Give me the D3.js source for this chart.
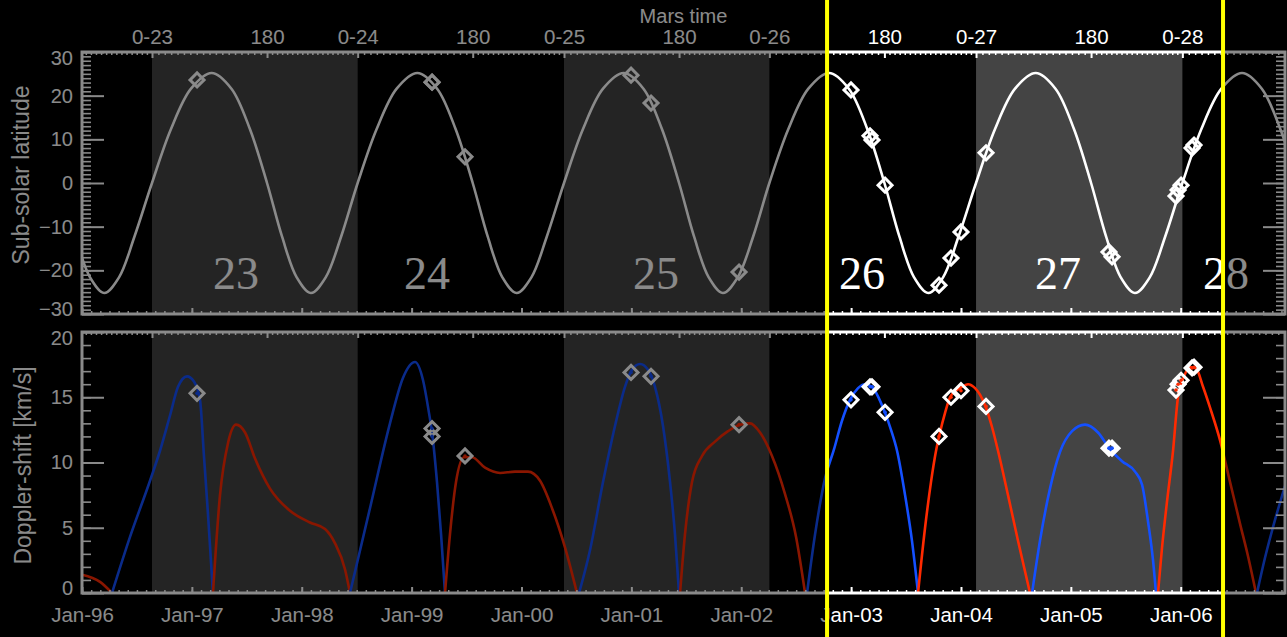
<!DOCTYPE html>
<html>
<head>
<meta charset="utf-8">
<script src="https://cdn.jsdelivr.net/npm/d3@7"></script>
<style>
  html, body { margin: 0; padding: 0; background: #000; }
  svg { display: block; }
  text { font-family: "Liberation Sans", Arial, Helvetica, sans-serif; }
</style>
</head>
<body>
<svg id="chart" width="1287" height="637"></svg>
<script>
// ---------------- data (time in decimal years) ----------------
const yearTicks = [1996, 1997, 1998, 1999, 2000, 2001, 2002, 2003, 2004, 2005, 2006];
const yearTickLabels = ["Jan-96", "Jan-97", "Jan-98", "Jan-99", "Jan-00", "Jan-01",
                        "Jan-02", "Jan-03", "Jan-04", "Jan-05", "Jan-06"];

// Mars calendar: start of each Mars year (Ls = 0) and the Ls = 180 crossings
const marsYearStart = [1996.637, 1998.509, 2000.387, 2002.256, 2004.137, 2006.015];
const marsYearLabels = ["0-23", "0-24", "0-25", "0-26", "0-27", "0-28"];
const marsLs180 = [1997.684, 1999.556, 2001.434, 2003.303, 2005.184];
const marsLs180Labels = ["180", "180", "180", "180", "180"];
// season boundaries just outside the plotted span (Ls 180 of MY22 and MY28)
const marsLs180Outside = [1995.803, 2007.062];

// apparition numbers written in the upper panel
const apparitionLabels = ["23", "24", "25", "26", "27", "28"];
const apparitionTimes = [1997.402, 1999.140, 2001.224, 2003.099, 2004.883, 2006.412];

// highlighted time window
const highlightWindow = [2002.781, 2006.385];

// sub-solar latitude of Mars [deg]
const subSolarTime = [
  1995.803, 1995.940, 1996.073, 1996.202, 1996.337, 1996.477,
  1996.637, 1996.809, 1996.992, 1997.180, 1997.360, 1997.529, 1997.684, 1997.821, 1997.954, 1998.083, 1998.218, 1998.358,
  1998.509, 1998.681, 1998.864, 1999.052, 1999.232, 1999.401, 1999.556, 1999.693, 1999.826, 1999.955, 2000.090, 2000.230,
  2000.387, 2000.559, 2000.742, 2000.930, 2001.110, 2001.279, 2001.434, 2001.571, 2001.704, 2001.833, 2001.968, 2002.108,
  2002.256, 2002.428, 2002.611, 2002.799, 2002.979, 2003.148, 2003.303, 2003.440, 2003.573, 2003.702, 2003.837, 2003.977,
  2004.137, 2004.309, 2004.492, 2004.680, 2004.860, 2005.029, 2005.184, 2005.321, 2005.454, 2005.583, 2005.718, 2005.858,
  2006.015, 2006.187, 2006.370, 2006.558, 2006.738, 2006.907, 2007.062
];
const subSolarLat = [
  0, -12.3, -21.6, -25.2, -21.6, -12.3,
  0, 12.3, 21.6, 25.2, 21.6, 12.3, 0, -12.3, -21.6, -25.2, -21.6, -12.3,
  0, 12.3, 21.6, 25.2, 21.6, 12.3, 0, -12.3, -21.6, -25.2, -21.6, -12.3,
  0, 12.3, 21.6, 25.2, 21.6, 12.3, 0, -12.3, -21.6, -25.2, -21.6, -12.3,
  0, 12.3, 21.6, 25.2, 21.6, 12.3, 0, -12.3, -21.6, -25.2, -21.6, -12.3,
  0, 12.3, 21.6, 25.2, 21.6, 12.3, 0, -12.3, -21.6, -25.2, -21.6, -12.3,
  0, 12.3, 21.6, 25.2, 21.6, 12.3, 0
];

// Doppler shift [km/s]: one arc per approach (blue) / recession (red) branch
const dopplerArcBranch = ["red", "blue", "red", "blue", "red", "blue", "red",
                          "blue", "red", "blue", "red", "blue"];
const dopplerArcTime = [
  [1996.000, 1996.164, 1996.273],
  [1996.273, 1996.437, 1996.619, 1996.710, 1996.801, 1996.874, 1996.956, 1997.019, 1997.074, 1997.110, 1997.147, 1997.192],
  [1997.192, 1997.256, 1997.329, 1997.402, 1997.484, 1997.575, 1997.711, 1997.893, 1998.075, 1998.212, 1998.303, 1998.394, 1998.439],
  [1998.439, 1998.621, 1998.803, 1998.922, 1999.031, 1999.104, 1999.158, 1999.186, 1999.231, 1999.268, 1999.304],
  [1999.304, 1999.349, 1999.404, 1999.477, 1999.550, 1999.668, 1999.805, 1999.941, 2000.059, 2000.169, 2000.278, 2000.396, 2000.505],
  [2000.524, 2000.624, 2000.742, 2000.851, 2000.942, 2001.006, 2001.079, 2001.152, 2001.215, 2001.288, 2001.352, 2001.397, 2001.434],
  [2001.443, 2001.488, 2001.552, 2001.643, 2001.761, 2001.880, 2001.989, 2002.080, 2002.171, 2002.280, 2002.398, 2002.499, 2002.581],
  [2002.599, 2002.672, 2002.763, 2002.844, 2002.917, 2002.990, 2003.063, 2003.127, 2003.190, 2003.254, 2003.309, 2003.363, 2003.418, 2003.491, 2003.554, 2003.609],
  [2003.609, 2003.673, 2003.727, 2003.773, 2003.809, 2003.855, 2003.900, 2003.955, 2004.010, 2004.064, 2004.128, 2004.173, 2004.228, 2004.283, 2004.337, 2004.428, 2004.519, 2004.628],
  [2004.647, 2004.719, 2004.810, 2004.901, 2005.011, 2005.129, 2005.247, 2005.357, 2005.466, 2005.584, 2005.648, 2005.702, 2005.748, 2005.775],
  [2005.793, 2005.830, 2005.875, 2005.930, 2005.975, 2006.030, 2006.085, 2006.139, 2006.203, 2006.267, 2006.358, 2006.449, 2006.540, 2006.613, 2006.685],
  [2006.694, 2006.767, 2006.858, 2006.949]
];
const dopplerArcValue = [
  [1.4, 0.85, 0],
  [0, 4.3, 8.6, 10.9, 13.6, 15.8, 16.6, 16.2, 14.8, 10.5, 6.0, 0],
  [0, 7.5, 11.5, 12.9, 12.3, 10.3, 8.0, 6.3, 5.4, 4.9, 3.8, 1.8, 0],
  [0, 6.5, 13.0, 16.5, 17.7, 16.3, 13.8, 12.3, 8.5, 4.5, 0],
  [0, 4.5, 8.5, 10.4, 10.4, 9.6, 9.2, 9.3, 9.3, 8.6, 6.5, 3.5, 0],
  [0, 3.3, 8.5, 12.8, 15.8, 17.1, 17.55, 17.1, 15.8, 12.8, 8.5, 4.5, 0],
  [0, 4.5, 8.5, 10.5, 11.6, 12.4, 12.9, 13.0, 12.3, 10.5, 7.6, 4.3, 0],
  [0, 4.5, 8.8, 11.0, 13.2, 14.8, 15.7, 16.0, 15.8, 14.9, 13.8, 12.5, 10.9, 7.5, 4.0, 0],
  [0, 5.0, 8.5, 10.9, 12.3, 13.8, 15.0, 15.5, 15.8, 16.0, 15.7, 15.2, 14.2, 12.7, 10.9, 7.5, 4.0, 0],
  [0, 4.0, 8.0, 10.8, 12.4, 12.9, 12.3, 11.0, 10.1, 9.3, 8.3, 5.5, 2.5, 0],
  [0, 3.5, 7.0, 10.9, 15.0, 16.6, 17.3, 17.2, 15.8, 14.2, 11.7, 8.5, 5.3, 2.8, 0],
  [0, 2.7, 5.6, 8.2]
];

// observations: date, sub-solar latitude [deg], Doppler shift [km/s], branch
const obsTime = [1997.047, 1999.186, 1999.186, 1999.486, 2000.997, 2001.179, 2001.980,
                 2002.999, 2003.172, 2003.190, 2003.309, 2003.800, 2003.909, 2004.000, 2004.228,
                 2005.347, 2005.375, 2005.957, 2005.976, 2006.003, 2006.103, 2006.121];
const obsLatitude = [23.6, 23.1, 23.1, 6.0, 24.7, 18.3, -20.4,
                     21.3, 10.8, 9.85, -0.5, -23.4, -17.2, -11.2, 6.9,
                     -15.8, -16.9, -3.0, -1.6, -0.5, 8.0, 8.7];
const obsDoppler = [15.3, 12.6, 12.0, 10.5, 16.9, 16.6, 12.9,
                    14.8, 15.8, 15.8, 13.85, 12.0, 15.0, 15.5, 14.3,
                    11.1, 11.1, 15.55, 16.0, 16.3, 17.25, 17.3];
const obsBranch = ["blue", "blue", "blue", "red", "blue", "blue", "red",
                   "blue", "blue", "blue", "blue", "red", "red", "red", "red",
                   "blue", "blue", "red", "red", "red", "red", "red"];

const latTicks = [-30, -20, -10, 0, 10, 20, 30];
const dopTicks = [0, 5, 10, 15, 20];

// ---------------- drawing ----------------
const W = 1287, H = 637;
const branchColor = { blue: "#1450ff", red: "#ff2a00" };
const fg = "#ffffff";

const svg = d3.select("#chart");
const x = d3.scaleLinear().domain([1996, 2006.949]).range([82, 1285]);
const yTop = d3.scaleLinear().domain([-30, 30]).range([314, 52]);
const yBot = d3.scaleLinear().domain([0, 20]).range([593, 332]);
const [xL, xR] = x.range();

svg.append("rect").attr("width", W).attr("height", H).attr("fill", "#000");

const defs = svg.append("defs");
[["clipTop", yTop], ["clipBot", yBot]].forEach(([id, ys]) => {
  const [b, t] = ys.range();
  defs.append("clipPath").attr("id", id).append("rect")
    .attr("x", xL).attr("y", t).attr("width", xR - xL).attr("height", b - t);
});

// alternate Mars years shaded
const shade = svg.append("g");
for (let i = 0; i + 1 < marsYearStart.length; i += 2) {
  [yTop, yBot].forEach(ys => {
    const [b, t] = ys.range();
    shade.append("rect")
      .attr("x", x(marsYearStart[i]))
      .attr("width", x(marsYearStart[i + 1]) - x(marsYearStart[i]))
      .attr("y", t).attr("height", b - t)
      .attr("fill", "#444444");
  });
}

// sub-solar latitude curve
const latLine = d3.line()
  .x(d => x(d[0])).y(d => yTop(d[1]))
  .curve(d3.curveCatmullRom.alpha(0.5));
svg.append("g").attr("clip-path", "url(#clipTop)")
  .append("path")
  .datum(d3.zip(subSolarTime, subSolarLat))
  .attr("d", latLine)
  .attr("fill", "none").attr("stroke", fg).attr("stroke-width", 2.6);

// Doppler arcs
const dopLine = d3.line()
  .x(d => x(d[0])).y(d => yBot(d[1]))
  .curve(d3.curveMonotoneX);
const arcs = svg.append("g").attr("clip-path", "url(#clipBot)");
dopplerArcTime.forEach((ts, i) => {
  arcs.append("path")
    .datum(d3.zip(ts, dopplerArcValue[i]))
    .attr("d", dopLine)
    .attr("fill", "none")
    .attr("stroke", branchColor[dopplerArcBranch[i]])
    .attr("stroke-width", 2.6);
});

// observation markers
const diamond = d3.symbol(d3.symbolSquare, 98)();
const obs = d3.range(obsTime.length);
svg.append("g").selectAll("path").data(obs).join("path")
  .attr("d", diamond)
  .attr("transform", i => `translate(${x(obsTime[i])},${yTop(obsLatitude[i])}) rotate(45)`)
  .attr("fill", "none").attr("stroke", fg).attr("stroke-width", 3);
const botMarks = svg.append("g");
botMarks.selectAll("path").data(obs).join("path")
  .attr("d", diamond)
  .attr("transform", i => `translate(${x(obsTime[i])},${yBot(obsDoppler[i])}) rotate(45)`)
  .attr("fill", "none").attr("stroke", fg).attr("stroke-width", 3);
botMarks.selectAll("circle").data(obs).join("circle")
  .attr("cx", i => x(obsTime[i])).attr("cy", i => yBot(obsDoppler[i]))
  .attr("r", 1.8).attr("fill", i => branchColor[obsBranch[i]]);

// panel frames
[yTop, yBot].forEach(ys => {
  const [b, t] = ys.range();
  svg.append("rect").attr("x", xL).attr("y", t).attr("width", xR - xL).attr("height", b - t)
    .attr("fill", "none").attr("stroke", fg).attr("stroke-width", 3);
});

// axis helper
function drawAxis(axis, tx, ty, width, fontSize) {
  const g = svg.append("g")
    .attr("transform", `translate(${tx},${ty})`)
    .attr("color", fg)
    .call(axis);
  g.attr("font-family", null).attr("font-size", null);
  g.select(".domain").remove();
  g.selectAll("line").attr("stroke-width", width);
  g.selectAll("text").attr("font-size", fontSize || 20);
  return g;
}

// Mars-time ticks: Ls 0 / 180 major, every 10 deg minor
const marsMajor = marsYearStart.map((t, i) => ({ t, label: marsYearLabels[i] }))
  .concat(marsLs180.map((t, i) => ({ t, label: marsLs180Labels[i] })))
  .sort((a, b) => a.t - b.t);
const seasonBounds = [marsLs180Outside[0], ...marsMajor.map(d => d.t), marsLs180Outside[1]];
const marsMinor = [];
for (let i = 0; i + 1 < seasonBounds.length; i++) {
  for (let k = 1; k < 18; k++) {
    marsMinor.push(seasonBounds[i] + (seasonBounds[i + 1] - seasonBounds[i]) * k / 18);
  }
}
const inDomain = t => t >= x.domain()[0] && t <= x.domain()[1];
const marsMinorIn = marsMinor.filter(inDomain);
const monthTicks = d3.range(0, 132).map(m => 1996 + m / 12).filter(inDomain);

// top edge of upper panel: Mars time with labels
drawAxis(d3.axisTop(x).tickValues(marsMinorIn).tickSize(-3).tickFormat(""), 0, 52, 1.5);
drawAxis(d3.axisTop(x).tickValues(marsMajor.map(d => d.t)).tickSize(-6).tickPadding(8.5)
  .tickFormat((d, i) => marsMajor[i].label), 0, 52, 2, 20.5);
// top edge of lower panel: Mars time, no labels
drawAxis(d3.axisTop(x).tickValues(marsMinorIn).tickSize(-3).tickFormat(""), 0, 332, 1.5);
drawAxis(d3.axisTop(x).tickValues(marsMajor.map(d => d.t)).tickSize(-6).tickFormat(""), 0, 332, 2);

// bottom edges: calendar months / years
[314, 593].forEach(yy => {
  drawAxis(d3.axisBottom(x).tickValues(monthTicks).tickSize(-3).tickFormat(""), 0, yy, 1.5);
});
drawAxis(d3.axisBottom(x).tickValues(yearTicks).tickSize(-6).tickFormat(""), 0, 314, 2);
drawAxis(d3.axisBottom(x).tickValues(yearTicks).tickSize(-6).tickPadding(14)
  .tickFormat((d, i) => yearTickLabels[i]), 0, 593, 2, 20.5);

// vertical axes
function valueAxes(ys, minorStep, majors) {
  const [lo, hi] = ys.domain();
  const minors = d3.range(lo, hi + 1e-9, minorStep);
  drawAxis(d3.axisLeft(ys).tickValues(minors).tickSize(-9).tickFormat(""), xL, 0, 1.6);
  drawAxis(d3.axisRight(ys).tickValues(minors).tickSize(-9).tickFormat(""), xR, 0, 1.6);
  drawAxis(d3.axisRight(ys).tickValues(majors).tickSize(-22).tickFormat(""), xR, 0, 2);
  const g = drawAxis(d3.axisLeft(ys).tickValues(majors).tickSize(-22).tickPadding(9), xL, 0, 2);
  // keep the end labels inside the frame
  g.selectAll(".tick text").attr("transform", d => d === hi ? "translate(0,6)" : d === lo ? "translate(0,-5)" : null);
}
valueAxes(yTop, 1, latTicks);
valueAxes(yBot, 1, dopTicks);

// titles
svg.append("text").attr("x", (xL + xR) / 2).attr("y", 23).attr("text-anchor", "middle")
  .attr("font-size", 20).attr("fill", fg).text("Mars time");
svg.append("text")
  .attr("transform", `translate(29,${(yTop.range()[0] + yTop.range()[1]) / 2 - 8}) rotate(-90)`)
  .attr("text-anchor", "middle").attr("font-size", 23).attr("fill", fg)
  .text("Sub-solar latitude");
svg.append("text")
  .attr("transform", `translate(31,${(yBot.range()[0] + yBot.range()[1]) / 2 + 3}) rotate(-90)`)
  .attr("text-anchor", "middle").attr("font-size", 23).attr("fill", fg)
  .text("Doppler-shift [km/s]");

// apparition numbers
svg.append("g").selectAll("text").data(apparitionLabels).join("text")
  .attr("x", (d, i) => x(apparitionTimes[i])).attr("y", 289)
  .attr("text-anchor", "middle")
  .style("font-family", "'Liberation Serif', 'Times New Roman', serif")
  .attr("font-size", 46).attr("fill", fg)
  .text(d => d);

// dim everything outside the highlighted window
const hx0 = x(highlightWindow[0]), hx1 = x(highlightWindow[1]);
svg.append("rect").attr("x", 0).attr("y", 0).attr("width", hx0).attr("height", H)
  .attr("fill", "#000").attr("opacity", 0.46);
svg.append("rect").attr("x", hx1).attr("y", 0).attr("width", W - hx1).attr("height", H)
  .attr("fill", "#000").attr("opacity", 0.46);

// window boundaries
svg.append("g").selectAll("line").data(highlightWindow).join("line")
  .attr("x1", d => x(d)).attr("x2", d => x(d))
  .attr("y1", 0).attr("y2", H)
  .attr("stroke", "#ffff00").attr("stroke-width", 4);
</script>
</body>
</html>
